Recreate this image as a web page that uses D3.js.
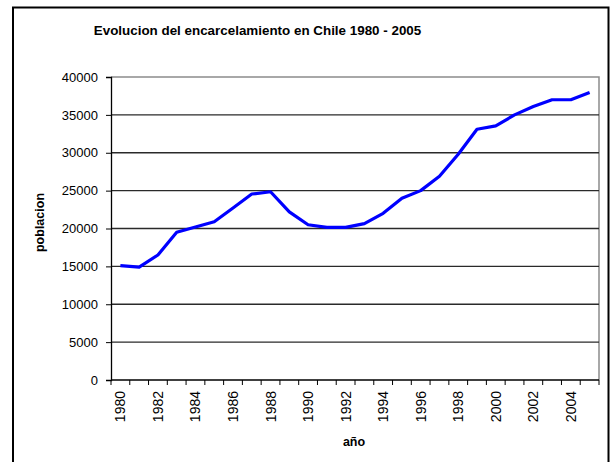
<!DOCTYPE html>
<html>
<head>
<meta charset="utf-8">
<script src="https://cdn.jsdelivr.net/npm/d3@7"></script>
<style>
  html, body { margin: 0; padding: 0; background: #fff; }
  svg { display: block; font-family: "Liberation Sans", Arial, sans-serif; }
</style>
</head>
<body>
<svg id="chart" width="611" height="462"></svg>
<script>
// Prison population in Chile, 1980–2005
const years = [1980, 1981, 1982, 1983, 1984, 1985, 1986, 1987, 1988, 1989,
               1990, 1991, 1992, 1993, 1994, 1995, 1996, 1997, 1998, 1999,
               2000, 2001, 2002, 2003, 2004, 2005];
const poblacion = [15100, 14900, 16500, 19500, 20200, 20900, 22700, 24550, 24850, 22200,
                   20500, 20150, 20150, 20650, 22000, 24000, 25000, 26900, 29800, 33100,
                   33550, 35000, 36100, 37000, 37000, 37950];
const yTicks = [0, 5000, 10000, 15000, 20000, 25000, 30000, 35000, 40000];
const xLabelYears = years.filter(y => y % 2 === 0 && y < 2005);

const title = "Evolucion del encarcelamiento en Chile 1980 - 2005";
const yTitle = "poblacion";
const xTitle = "año";

const FONT = "'Liberation Sans', Arial, sans-serif";
const svg = d3.select("#chart");

// chart frame
svg.append("rect")
  .attr("x", 13).attr("y", 7.5)
  .attr("width", 595.5).attr("height", 470)
  .attr("fill", "#fff").attr("stroke", "#000").attr("stroke-width", 2);

const plot = { left: 111, top: 77, right: 599, bottom: 380 };

const x = d3.scaleBand().domain(years).range([plot.left, plot.right]).padding(0);
const y = d3.scaleLinear().domain([0, 40000]).range([plot.bottom, plot.top]);

// plot area border (top/right)
svg.append("path")
  .attr("d", `M${plot.left},${plot.top}H${plot.right}V${plot.bottom}`)
  .attr("fill", "none").attr("stroke", "#8c8c8c").attr("stroke-width", 1.5);

// horizontal gridlines
svg.append("g").selectAll("line")
  .data(yTicks.filter(v => v > 0 && v < 40000))
  .join("line")
  .attr("x1", plot.left).attr("x2", plot.right)
  .attr("y1", d => y(d)).attr("y2", d => y(d))
  .attr("stroke", "#2a2a2a").attr("stroke-width", 1.3);

// y axis
const yAxis = d3.axisLeft(y).tickValues(yTicks).tickSize(5).tickPadding(8)
  .tickFormat(d3.format("d"));
const gy = svg.append("g").attr("transform", `translate(${plot.left},0)`).call(yAxis);
gy.attr("font-family", FONT).attr("font-size", 13);
gy.select(".domain").attr("stroke", "#000").attr("stroke-width", 1.3);
gy.selectAll(".tick line").attr("stroke", "#000");
gy.selectAll(".tick text").attr("fill", "#000");

// x axis line
svg.append("line")
  .attr("x1", plot.left).attr("x2", plot.right)
  .attr("y1", plot.bottom).attr("y2", plot.bottom)
  .attr("stroke", "#000").attr("stroke-width", 1.3);

// x tick marks between categories
const tickPos = years.map(d => x(d)).concat([x.range()[1]]);
svg.append("g").selectAll("line")
  .data(tickPos)
  .join("line")
  .attr("x1", d => d).attr("x2", d => d)
  .attr("y1", plot.bottom).attr("y2", plot.bottom + 5)
  .attr("stroke", "#000");

// x tick labels (rotated)
svg.append("g").selectAll("text")
  .data(xLabelYears)
  .join("text")
  .attr("transform", d => `translate(${x(d) + x.bandwidth() / 2 + 5},${plot.bottom + 11}) rotate(-90)`)
  .attr("text-anchor", "end")
  .attr("font-size", 14)
  .attr("fill", "#000")
  .text(d => d);

// data line
const line = d3.line()
  .x((d, i) => x(years[i]) + x.bandwidth() / 2)
  .y(d => y(d));
svg.append("path")
  .datum(poblacion)
  .attr("d", line)
  .attr("fill", "none")
  .attr("stroke", "#0000ff")
  .attr("stroke-width", 3.2)
  .attr("stroke-linejoin", "round");

// titles
svg.append("text")
  .attr("x", 257.5).attr("y", 34.5)
  .attr("text-anchor", "middle")
  .attr("font-size", 13.4).attr("font-weight", "bold")
  .text(title);

svg.append("text")
  .attr("transform", "translate(43.5,222.5) rotate(-90)")
  .attr("text-anchor", "middle")
  .attr("font-size", 12.5).attr("font-weight", "bold")
  .text(yTitle);

svg.append("text")
  .attr("x", 354).attr("y", 445.5)
  .attr("text-anchor", "middle")
  .attr("font-size", 12.5).attr("font-weight", "bold")
  .text(xTitle);
</script>
</body>
</html>
